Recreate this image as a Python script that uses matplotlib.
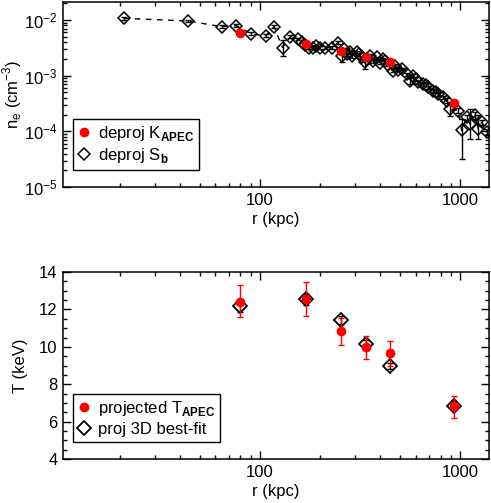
import numpy as np
import matplotlib
matplotlib.use("Agg")
import matplotlib.pyplot as plt
from matplotlib.ticker import LogLocator, MultipleLocator, FormatStrFormatter, NullFormatter

plt.rcParams["font.family"] = ["Liberation Sans", "DejaVu Sans"]
plt.rcParams["mathtext.fontset"] = "custom"
plt.rcParams["mathtext.rm"] = "Liberation Sans"
plt.rcParams["mathtext.bf"] = "Liberation Sans:bold"
plt.rcParams["font.size"] = 12

# =========================
# Data
# =========================
# deprojected S_b density profile (diamonds)
r_sb = [20.9, 43.8, 64.4, 76.5, 90.2, 107.2, 117.9, 129.9, 142.4, 155.4,
        162.2, 167.9, 175.8, 184.7, 190.5, 199.5, 211.3, 228.3, 246.4, 256.2,
        263.0, 272.3, 281.8, 288.4, 304.5, 312.6, 322.5, 335.0, 342.8, 354.8,
        367.3, 383.3, 398.1, 413.5, 421.7, 436.5, 464.0, 473.2, 489.8, 511.1,
        541.5, 562.3, 584.1, 602.6, 618.7, 655.3, 676.1, 694.2, 735.4, 758.6,
        778.9, 825.1, 858.0, 891.3, 980.6, 1020, 1080, 1122, 1189, 1235,
        1284, 1360]
ne_sb = [0.0107, 0.0096, 0.00759, 0.00791, 0.00569, 0.00518, 0.00759, 0.0032, 0.00503, 0.00452,
         0.00405, 0.00358, 0.00316, 0.0032, 0.00343, 0.0032, 0.0032, 0.0032, 0.00394, 0.00228,
         0.00303, 0.00247, 0.00261, 0.00228, 0.00261, 0.00247, 0.00212, 0.00173, 0.00201, 0.00228,
         0.00185, 0.00212, 0.00171, 0.00199, 0.00185, 0.00157, 0.00123, 0.00151, 0.00128, 0.00132,
         0.00107, 0.000814, 0.001, 0.000883, 0.000759, 0.000711, 0.00069, 0.000618, 0.00054, 0.000518,
         0.000471, 0.00041, 0.000358, 0.000254, 0.000237, 0.000104, 0.00018, 0.000137, 0.000193, 0.000112,
         0.000147, 0.0000971]
ne_sb_lo = [0.0101, 0.0091, 0.0072, 0.0075, 0.0054, 0.0049, 0.0072, 0.00228, 0.0047, 0.0043,
            0.0038, 0.0034, 0.0030, 0.0030, 0.0032, 0.0030, 0.0030, 0.0030, 0.0037, 0.00173,
            0.0029, 0.0023, 0.0025, 0.0021, 0.0025, 0.0023, 0.0020, 0.00133, 0.0019, 0.0021,
            0.0017, 0.0020, 0.0016, 0.0019, 0.0017, 0.0015, 0.00115, 0.0014, 0.0012, 0.00124,
            0.00100, 0.00071, 0.00094, 0.00083, 0.00071, 0.00066, 0.00064, 0.00057, 0.00050, 0.00048,
            0.00044, 0.00038, 0.00033, 0.000188, 0.00021, 0.0000325, 0.00016, 0.0000744, 0.00017, 0.0000744,
            0.00013, 0.000085]
ne_sb_hi = [0.0113, 0.0101, 0.0080, 0.0083, 0.0060, 0.0055, 0.0080, 0.00441, 0.0053, 0.0048,
            0.0043, 0.0038, 0.0033, 0.0034, 0.0036, 0.0034, 0.0034, 0.0034, 0.0042, 0.0027,
            0.0032, 0.0026, 0.0028, 0.0024, 0.0028, 0.0026, 0.0022, 0.0020, 0.0021, 0.0024,
            0.0020, 0.0022, 0.0018, 0.0021, 0.0020, 0.0017, 0.0013, 0.0016, 0.0014, 0.0014,
            0.00114, 0.00092, 0.00106, 0.00094, 0.00081, 0.00076, 0.00074, 0.00066, 0.00058, 0.00055,
            0.00050, 0.00044, 0.00039, 0.000335, 0.00026, 0.000168, 0.00020, 0.000254, 0.00022, 0.000194,
            0.00016, 0.00011]

# deprojected K_APEC density (red dots)
r_k = [79.4, 171, 256, 341, 447, 935]
ne_k = [0.00593, 0.00368, 0.00272, 0.00212, 0.00178, 0.000325]

# projected temperatures
r_t = [79.4, 171, 256, 341, 447, 933]
t_apec = [12.38, 12.56, 10.83, 10.0, 9.65, 6.83]
t_apec_lo = [11.6, 11.66, 10.08, 9.35, 8.97, 6.2]
t_apec_hi = [13.3, 13.45, 11.52, 10.6, 10.33, 7.38]
t_fit = [12.18, 12.55, 11.43, 10.15, 8.99, 6.85]
t_fit_err = [0.3, 0.3, 0.2, 0.2, 0.15, 0.25]

red = "#ff0000"

fig = plt.figure(figsize=(4.91, 5.03), dpi=100)
ax1 = fig.add_axes([0.1283, 0.628, 0.868, 0.368])
ax2 = fig.add_axes([0.1283, 0.0875, 0.868, 0.3715])


def style_axes(ax):
    for sp in ax.spines.values():
        sp.set_linewidth(1.1)
    ax.tick_params(which="both", direction="in", top=True, right=True, width=1.0)
    ax.tick_params(which="major", length=6, pad=4)
    ax.tick_params(which="minor", length=3)
    ax.set_xscale("log")
    ax.set_xlim(10.4, 1400)
    ax.xaxis.set_major_locator(LogLocator(base=10, numticks=10))
    ax.xaxis.set_minor_locator(LogLocator(base=10, subs=np.arange(2, 10), numticks=10))
    ax.xaxis.set_major_formatter(FormatStrFormatter("%d"))
    ax.xaxis.set_minor_formatter(NullFormatter())
    ax.set_xlabel("r (kpc)", labelpad=3)


# =========================
# Top panel: density profile
# =========================
ne_sb_arr = np.array(ne_sb)
yerr_sb = [ne_sb_arr - np.array(ne_sb_lo), np.array(ne_sb_hi) - ne_sb_arr]
ax1.plot(r_sb, ne_sb, linestyle=(0, (4, 4)), color="black", linewidth=1.0, zorder=1)
ax1.errorbar(r_sb, ne_sb, yerr=yerr_sb, fmt="none", ecolor="black",
             elinewidth=1.0, capsize=2, capthick=1.0, zorder=2)
ax1.plot(r_sb, ne_sb, linestyle="none", marker="D", markersize=6.5,
         markerfacecolor="none", markeredgecolor="black", markeredgewidth=1.1,
         zorder=3, label=r"deproj S$_{\bf b}$")
ax1.plot(r_k, ne_k, linestyle="none", marker="o", markersize=6,
         color=red, zorder=4, label=r"deproj K$_{\bf APEC}$")

style_axes(ax1)
ax1.set_yscale("log")
ax1.set_ylim(1e-5, 0.021)
ax1.yaxis.set_major_locator(LogLocator(base=10, numticks=10))
ax1.yaxis.set_minor_locator(LogLocator(base=10, subs=np.arange(2, 10), numticks=10))
ax1.set_ylabel(r"n$_{\rm e}$ (cm$^{-3}$)")
ax1.yaxis.set_label_coords(-0.092, 0.5)

h, l = ax1.get_legend_handles_labels()
leg1 = ax1.legend([h[1], h[0]], [l[1], l[0]], loc="lower left",
                  bbox_to_anchor=(0.023, 0.092), borderaxespad=0,
                  fancybox=False, edgecolor="black", framealpha=1,
                  handlelength=0.8, handletextpad=0.4, borderpad=0.3,
                  labelspacing=0.2, fontsize=12)
leg1.get_frame().set_linewidth(1.0)

# =========================
# Bottom panel: temperature
# =========================
t_apec_arr = np.array(t_apec)
yerr_t = [t_apec_arr - np.array(t_apec_lo), np.array(t_apec_hi) - t_apec_arr]
ax2.errorbar(r_t, t_fit, yerr=t_fit_err, fmt="none", ecolor="black",
             elinewidth=1.0, capsize=2, zorder=2)
ax2.plot(r_t, t_fit, linestyle="none", marker="D", markersize=6.8,
         markerfacecolor="none", markeredgecolor="black", markeredgewidth=1.3,
         zorder=3, label="proj 3D best-fit")
ax2.errorbar(r_t, t_apec, yerr=yerr_t, fmt="none", ecolor=red,
             elinewidth=1.0, capsize=2.2, capthick=1.0, zorder=4)
ax2.plot(r_t, t_apec, linestyle="none", marker="o", markersize=6,
         color=red, zorder=5, label=r"projected T$_{\bf APEC}$")

style_axes(ax2)
ax2.set_ylim(4, 14)
ax2.yaxis.set_major_locator(MultipleLocator(2))
ax2.yaxis.set_minor_locator(MultipleLocator(0.5))
ax2.set_ylabel("T (keV)")
ax2.yaxis.set_label_coords(-0.082, 0.5)

h, l = ax2.get_legend_handles_labels()
leg2 = ax2.legend([h[1], h[0]], [l[1], l[0]], loc="lower left",
                  bbox_to_anchor=(0.023, 0.093), borderaxespad=0,
                  fancybox=False, edgecolor="black", framealpha=1,
                  handlelength=0.8, handletextpad=0.4, borderpad=0.3,
                  labelspacing=0.2, fontsize=12)
leg2.get_frame().set_linewidth(1.0)

plt.savefig("out.png", dpi=100)
